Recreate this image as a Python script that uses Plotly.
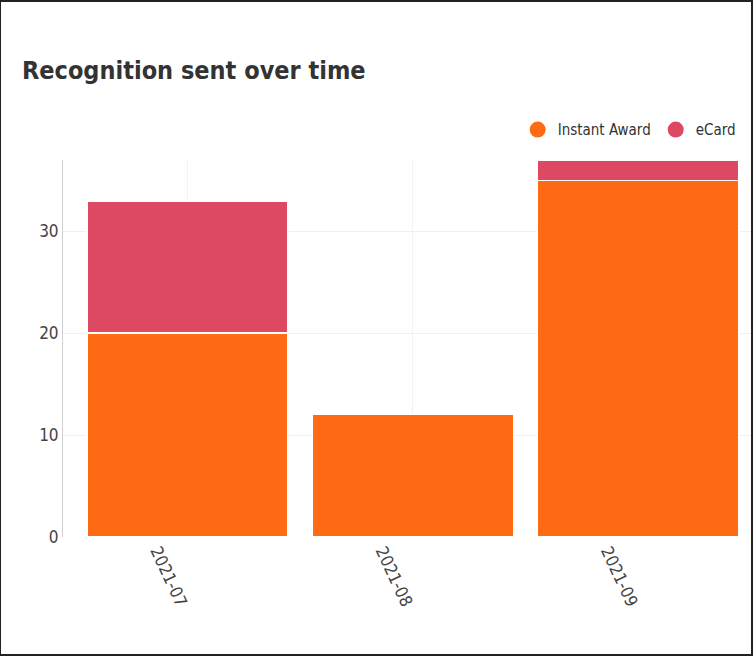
import plotly.graph_objects as go

months = ["2021-07", "2021-08", "2021-09"]
instant_award = [20, 12, 35]
ecard = [13, 0, 2]
y_ticks = [0, 10, 20, 30]

ORANGE = "#FF6B14"
RED = "#DD4863"
FONT = "DejaVu Sans Condensed, DejaVu Sans, sans-serif"

fig = go.Figure()
fig.add_trace(go.Bar(x=months, y=instant_award, name="Instant Award",
                     marker=dict(color=ORANGE, line=dict(color="white", width=1.5)),
                     showlegend=False))
fig.add_trace(go.Bar(x=months, y=ecard, name="eCard",
                     marker=dict(color=RED, line=dict(color="white", width=1.5)),
                     showlegend=False))
fig.add_trace(go.Scatter(x=[None], y=[None], mode="markers", name="Instant Award",
                         marker=dict(color=ORANGE, size=16, symbol="circle")))
fig.add_trace(go.Scatter(x=[None], y=[None], mode="markers", name="eCard",
                         marker=dict(color=RED, size=16, symbol="circle")))

fig.update_layout(
    width=753, height=657,
    margin=dict(l=63, r=2, t=160, b=120),
    paper_bgcolor="white", plot_bgcolor="white",
    barmode="stack", bargap=0.107,
    font=dict(family=FONT, color="#333333"),
    title=dict(text="<b>Recognition sent over time</b>", x=22/753, xanchor="left",
               y=1 - 70/657, yanchor="middle", yref="container",
               font=dict(size=25, color="#333333", family=FONT)),
    legend=dict(orientation="h", x=0.985, xanchor="right", y=1.08, yanchor="middle",
                font=dict(size=15, color="#333333", family=FONT), itemwidth=30,
                traceorder="normal",
                bgcolor="rgba(0,0,0,0)", tracegroupgap=0),
    xaxis=dict(type="category", range=[-0.553, 2.5], showgrid=True, gridcolor="#f3f3f3",
               tickangle=65, tickfont=dict(size=17, color="#444444", family=FONT), showline=False,
               ticks="", zeroline=False, ticklabelshift=-30),
    yaxis=dict(range=[0, 37], tickvals=y_ticks, showgrid=True, gridcolor="#f0f0f0",
               showline=True, linecolor="#d0d0d0", linewidth=1, zeroline=False,
               tickfont=dict(size=17, color="#444444", family=FONT), ticks=""),
    shapes=[dict(type="rect", xref="paper", yref="paper",
                 x0=-63/688, x1=1 + 1/688, y0=-(655-537)/377, y1=1 + (160-1)/377,
                 line=dict(color="#222222", width=2), fillcolor="rgba(0,0,0,0)", layer="above")],
)

fig.write_html("out.html")
